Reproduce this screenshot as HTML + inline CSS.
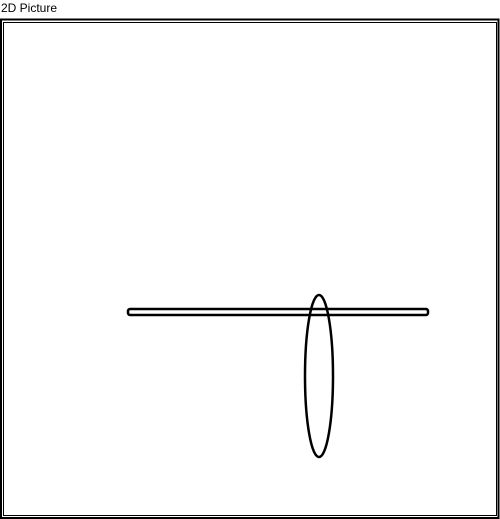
<!DOCTYPE html>
<html><head><meta charset="utf-8"><style>
html,body{margin:0;padding:0;background:#fff;width:500px;height:519px;overflow:hidden}
#title{position:absolute;left:1px;top:1px;font:12px "Liberation Sans",sans-serif;color:#000}
svg{position:absolute;left:0;top:0}
</style></head><body>
<div id="title">2D Picture</div>
<svg width="500" height="519">
<rect x="1" y="19.5" width="497.5" height="498.5" fill="none" stroke="#000" stroke-width="2"/>
<rect x="3.5" y="22.5" width="493" height="493" fill="none" stroke="#000" stroke-width="1"/>
<g id="shapes"></g>
</svg>
<script>
const barX=[128,428];
const barY=[309,315];
const ellipseCenter=[319,376];
const ellipseRadii=[14,81];
const g=document.getElementById('shapes');
const ns='http://www.w3.org/2000/svg';
const r=document.createElementNS(ns,'rect');
r.setAttribute('x',barX[0]);r.setAttribute('y',barY[0]);
r.setAttribute('width',barX[1]-barX[0]);r.setAttribute('height',barY[1]-barY[0]);
r.setAttribute('rx',2);r.setAttribute('fill','none');r.setAttribute('stroke','#000');r.setAttribute('stroke-width',2.5);


g.appendChild(r);
const e=document.createElementNS(ns,'ellipse');
e.setAttribute('cx',ellipseCenter[0]);e.setAttribute('cy',ellipseCenter[1]);
e.setAttribute('rx',ellipseRadii[0]);e.setAttribute('ry',ellipseRadii[1]);
e.setAttribute('fill','none');e.setAttribute('stroke','#000');e.setAttribute('stroke-width',2.5);


g.appendChild(e);
</script>
</body></html>
